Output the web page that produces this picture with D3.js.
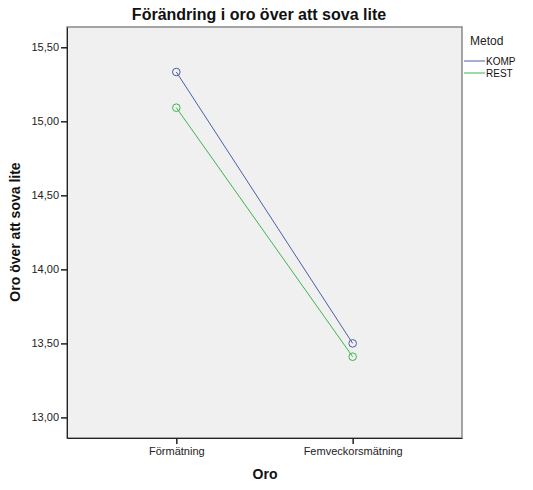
<!DOCTYPE html>
<html><head><meta charset="utf-8">
<script src="https://cdn.jsdelivr.net/npm/d3@7/dist/d3.min.js"></script>
<style>body{margin:0;background:#fff;}svg{display:block;font-family:Arial,"Liberation Sans",sans-serif;}</style>
</head><body>
<svg id="c" width="533" height="490"></svg>
<script>
const categories = ["Förmätning", "Femveckorsmätning"];
const seriesNames = ["KOMP", "REST"];
const kompValues = [15.333, 13.50];
const restValues = [15.092, 13.41];
const yTicks = [13.00, 13.50, 14.00, 14.50, 15.00, 15.50];
const colors = {KOMP: "#4a5ea8", REST: "#3cb44b"};

const svg = d3.select("#c");
const L = 67, T = 27, R = 462, B = 438;
const x = d3.scalePoint().domain(categories).range([L, R]).padding(0.62);
const y = d3.scaleLinear().domain([12.861, 15.637]).range([B, T]);

svg.append("rect").attr("x", L).attr("y", T).attr("width", R - L).attr("height", B - T)
  .attr("fill", "#f0f0f0").attr("stroke", "#888").attr("stroke-width", 1.5);

const fmt = d => d.toFixed(2).replace(".", ",");
const ya = svg.append("g").attr("transform", `translate(${L},0)`)
  .call(d3.axisLeft(y).tickValues(yTicks).tickFormat(fmt).tickSize(6).tickSizeOuter(0));
ya.select(".domain").attr("stroke", "#222");
ya.selectAll(".tick line").attr("stroke", "#222").attr("stroke-width", 1.5);
ya.selectAll("text").attr("font-size", 11).attr("fill", "#222").attr("font-family", "Arial,'Liberation Sans',sans-serif").attr("x", -8);

const xa = svg.append("g").attr("transform", `translate(0,${B})`)
  .call(d3.axisBottom(x).tickSize(6).tickSizeOuter(0));
xa.select(".domain").attr("stroke", "#222");
xa.selectAll(".tick line").attr("stroke", "#222").attr("stroke-width", 1.5);
xa.selectAll("text").attr("font-size", 11).attr("fill", "#222").attr("font-family", "Arial,'Liberation Sans',sans-serif").attr("y", 9);

const series = [
  {name: "KOMP", values: kompValues},
  {name: "REST", values: restValues}
];
const line = d3.line().x((d, i) => x(categories[i])).y(d => y(d));
series.forEach(s => {
  svg.append("path").attr("d", line(s.values)).attr("fill", "none")
    .attr("stroke", colors[s.name]).attr("stroke-width", 1);
  svg.selectAll(null).data(s.values).enter().append("circle")
    .attr("cx", (d, i) => x(categories[i])).attr("cy", d => y(d)).attr("r", 3.8)
    .attr("fill", "none").attr("stroke", colors[s.name]).attr("stroke-width", 1);
});

svg.append("text").attr("x", 259).attr("y", 20).attr("text-anchor", "middle")
  .attr("font-size", 16).attr("font-weight", "bold").attr("fill", "#111")
  .text("Förändring i oro över att sova lite");
svg.append("text").attr("x", 265).attr("y", 479).attr("text-anchor", "middle")
  .attr("font-size", 14).attr("font-weight", "bold").attr("fill", "#111").text("Oro");
svg.append("text").attr("transform", "translate(20,232) rotate(-90)").attr("text-anchor", "middle")
  .attr("font-size", 14).attr("font-weight", "bold").attr("fill", "#111").text("Oro över att sova lite");

const lg = svg.append("g");
lg.append("text").attr("x", 470).attr("y", 45).attr("font-size", 12).attr("fill", "#222").text("Metod");
seriesNames.forEach((n, i) => {
  const yy = 61 + i * 12;
  lg.append("line").attr("x1", 464).attr("x2", 485).attr("y1", yy).attr("y2", yy)
    .attr("stroke", colors[n]).attr("stroke-width", 1);
  lg.append("text").attr("x", 486).attr("y", yy + 4).attr("font-size", 10).attr("fill", "#111").text(n);
});
</script>
</body></html>
